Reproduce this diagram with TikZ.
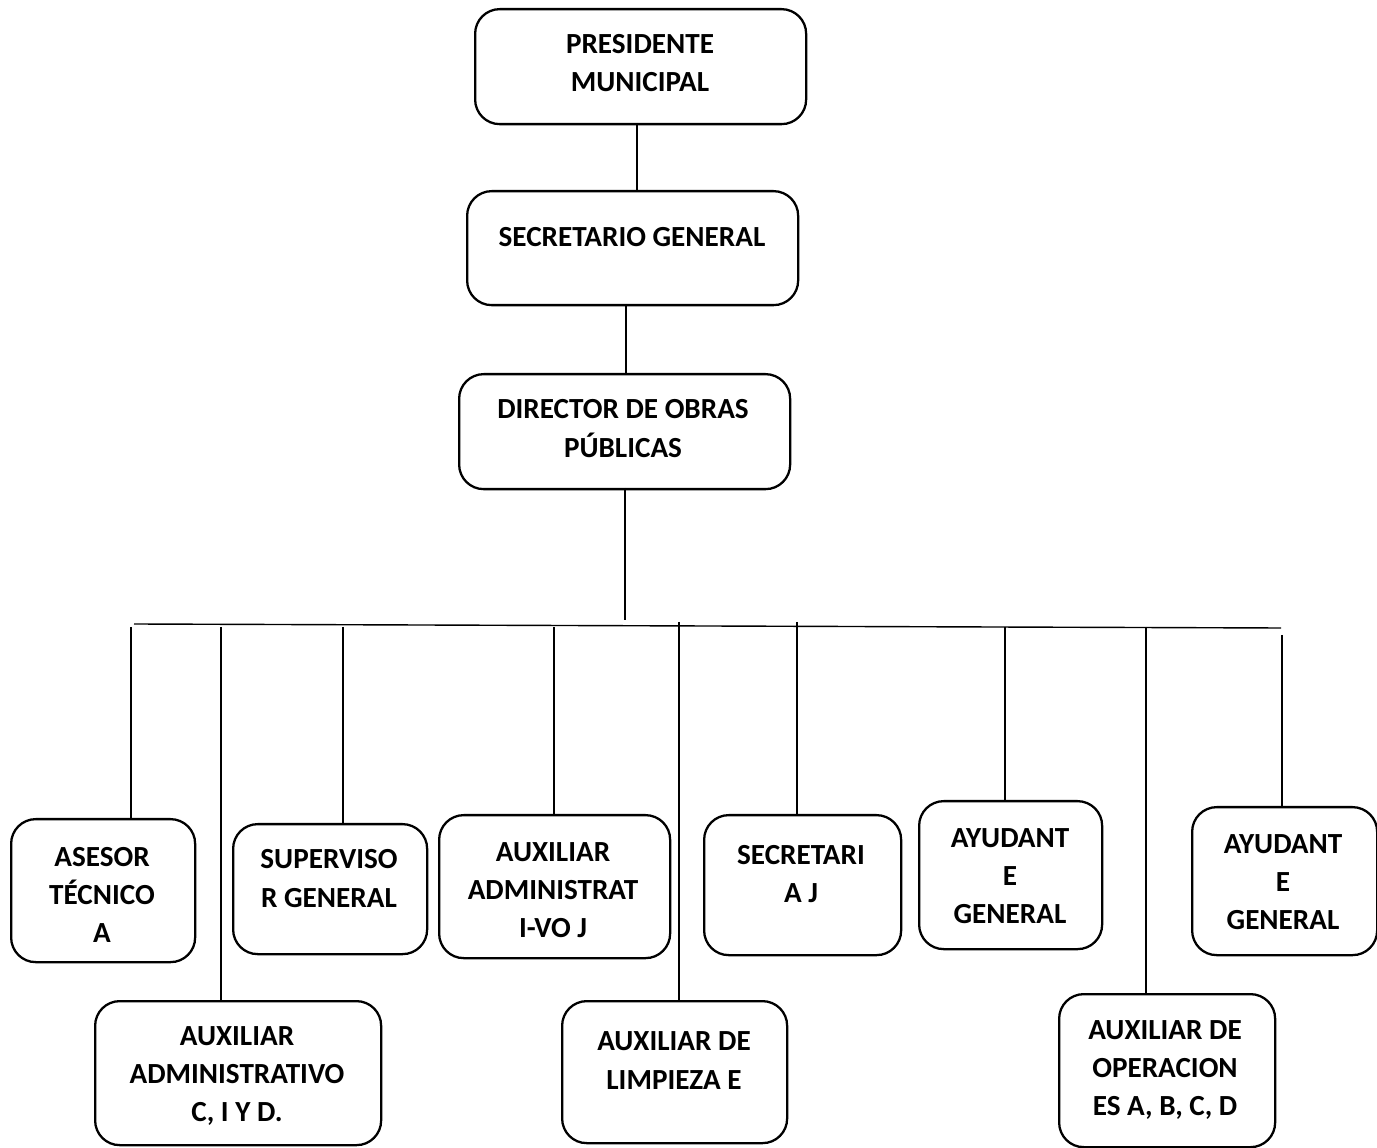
\documentclass[tikz,border=0pt]{standalone}
\usepackage{fontspec}
\setmainfont{Carlito}
\usetikzlibrary{calc}
\begin{document}
\begin{tikzpicture}[x=0.02cm,y=-0.02cm,
  box/.style={draw,line width=1.3pt,rounded corners=14pt,inner sep=0pt},
  lbl/.style={align=center,inner sep=0pt,font=\bfseries\fontsize{16.6}{21.8}\selectfont},
  conn/.style={line width=0.8pt}]
\useasboundingbox (0,0) rectangle (1377,1148);
% boxes
\newcommand{\obox}[5]{%
  \node[box,anchor=north west,minimum width={(#4-#2)*0.02cm},minimum height={(#5-#3)*0.02cm}] (#1) at (#2,#3) {};}
\obox{p}{474}{8}{805}{123}
\obox{s}{466}{190}{797}{304}
\obox{d}{458}{373}{789}{488}
\obox{a1}{10}{818}{194}{961}
\obox{a2}{232}{823}{426}{953}
\obox{a3}{438}{814}{669}{957}
\obox{a4}{703}{814}{900}{954}
\obox{a5}{918}{800}{1101}{948}
\obox{a6}{1191}{806}{1376}{954}
\obox{b1}{94}{1000}{380}{1144}
\obox{b2}{561}{1000}{786}{1142}
\obox{b3}{1058}{993}{1274}{1146}
% labels
\node[lbl] (lp) at (640,63) {PRESIDENTE\\MUNICIPAL};
\node[lbl] (ls) at (632,237) {SECRETARIO GENERAL};
\node[lbl] (ld) at (623,428.5) {DIRECTOR DE OBRAS\\PÚBLICAS};
\node[lbl] (la1) at (102,895) {ASESOR\\TÉCNICO\\A};
\node[lbl] (la2) at (329,878.5) {SUPERVISO\\R GENERAL};
\node[lbl] (la3) at (553,890) {AUXILIAR\\ADMINISTRAT\\I-VO J};
\node[lbl] (la4) at (801,874) {SECRETARI\\A J};
\node[lbl] (la5) at (1010,876) {AYUDANT\\E\\GENERAL};
\node[lbl] (la6) at (1283,882) {AYUDANT\\E\\GENERAL};
\node[lbl] (lb1) at (237,1076) {AUXILIAR\\ADMINISTRATIVO\\C, I Y D.};
\node[lbl] (lb2) at (674,1060.5) {AUXILIAR DE\\LIMPIEZA E};
\node[lbl] (lb3) at (1165,1070) {AUXILIAR DE\\OPERACION\\ES A, B, C, D};
% connectors
\coordinate (ps) at (637,123);
\draw[conn] (ps) -- (ps |- s.north);
\coordinate (sd) at (626,304);
\draw[conn] (sd) -- (sd |- d.north);
\coordinate (dj) at (625,488);
\coordinate (j) at (625,620);
\draw[conn] (dj) -- (j);
\coordinate (bl) at (134,624);
\coordinate (br) at (1281,628);
\draw[conn] (bl) -- (br);
\coordinate (t1) at (131,627);
\coordinate (t2) at (221,627);
\coordinate (t3) at (343,627);
\coordinate (t4) at (554,627);
\coordinate (t5) at (679,622);
\coordinate (t6) at (797,622);
\coordinate (t7) at (1005,627);
\coordinate (t8) at (1146,627);
\coordinate (t9) at (1282,635);
\draw[conn] (t1) -- (t1 |- a1.north);
\draw[conn] (t2) -- (t2 |- b1.north);
\draw[conn] (t3) -- (t3 |- a2.north);
\draw[conn] (t4) -- (t4 |- a3.north);
\draw[conn] (t5) -- (t5 |- b2.north);
\draw[conn] (t6) -- (t6 |- a4.north);
\draw[conn] (t7) -- (t7 |- a5.north);
\draw[conn] (t8) -- (t8 |- b3.north);
\draw[conn] (t9) -- (t9 |- a6.north);
\end{tikzpicture}
\end{document}
